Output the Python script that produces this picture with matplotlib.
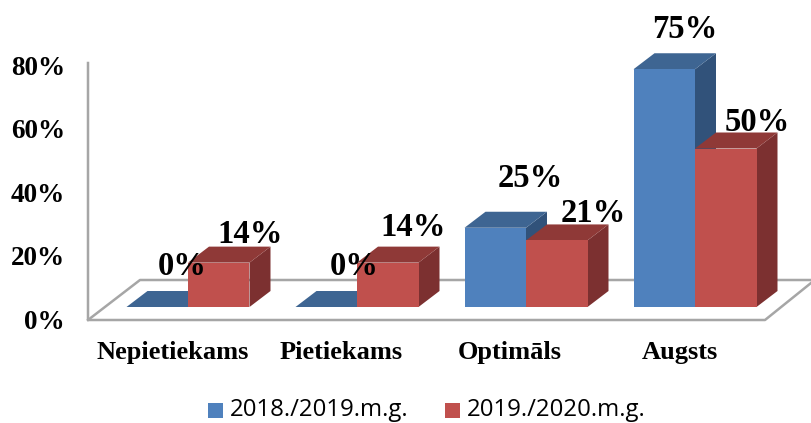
import matplotlib
matplotlib.use('Agg')
import matplotlib.pyplot as plt
from matplotlib.patches import Polygon, Rectangle
from matplotlib.transforms import Affine2D

categories = ['Nepietiekams', 'Pietiekams', 'Optimāls', 'Augsts']
series_names = ['2018./2019.m.g.', '2019./2020.m.g.']
values_2019 = [0, 0, 25, 75]
values_2020 = [14, 14, 21, 50]
y_ticks = [0, 20, 40, 60, 80]

# figure is exactly 811x423 px, one axes over all of it, no frame
W, H = 811, 423
PX_X = 169.0     # px per category
PX_Y = 3.17      # px per percent
X0, Y0 = 188, 307  # where category 0 / value 0 fall in the picture

fig = plt.figure(figsize=(W/100, H/100), dpi=100)
ax = fig.add_axes([0, 0, 1, 1])
ax.set_xlim(-X0/PX_X, (W-X0)/PX_X)
ax.set_ylim((Y0-H)/PX_Y, Y0/PX_Y)
ax.axis('off')

# pixel coords, y down like in the reference
px = Affine2D().scale(1, -1).translate(0, H)

serif = dict(family='Liberation Serif', weight='bold', color='black')
frame = '#a6a6a6'

# wall and floor of the fake 3d box
ax.plot([88, 88, 765, 811], [63, 320, 320, 283], color=frame, lw=1.8, transform=px, zorder=1)
ax.plot([88, 140, 811], [320, 280, 280], color=frame, lw=1.8, transform=px, zorder=1)

bar_w = 61.5/PX_X
dx = 21/PX_X
dy = 16/PX_Y


def draw_bars(offset, vals, front, top, side, z):
    for i, v in enumerate(vals):
        left = i + offset
        right = left + bar_w
        ax.add_patch(Polygon([(right, 0), (right+dx, dy), (right+dx, v+dy), (right, v)],
                             facecolor=side, edgecolor='none', zorder=z))
        ax.add_patch(Polygon([(left, v), (right, v), (right+dx, v+dy), (left+dx, v+dy)],
                             facecolor=top, edgecolor='none', zorder=z))
        ax.bar(left, v, width=bar_w, align='edge', color=front, zorder=z+0.5)


draw_bars(-bar_w, values_2019, '#4f81bd', '#3e6592', '#31527a', 3)
draw_bars(0, values_2020, '#c0504d', '#8f3937', '#7c3030', 4)

# value labels, offsets in px from the top centre of each bar
offs_2019 = [(25, 41), (28, 41), (35, 49), (21, 40)]
offs_2020 = [(31, 28), (25, 35), (37, 27), (32, 26)]
for i in range(4):
    ax.annotate('%d%%' % values_2019[i], (i - bar_w/2, values_2019[i]), xytext=offs_2019[i],
                textcoords='offset pixels', ha='center', va='center', fontsize=23.5, zorder=10, **serif)
    ax.annotate('%d%%' % values_2020[i], (i + bar_w/2, values_2020[i]), xytext=offs_2020[i],
                textcoords='offset pixels', ha='center', va='center', fontsize=23.5, zorder=10, **serif)

# y axis labels sit on the wall, a bit lower than the bars' zero
for t in y_ticks:
    ax.annotate('%d%%' % t, (0, t), xycoords=('axes fraction', 'data'), xytext=(65, -15),
                textcoords='offset pixels', ha='right', va='center', fontsize=19.5, **serif)

cat_x = [173, 341, 510, 679.5]
for name, x in zip(categories, cat_x):
    ax.text(x, 352, name, transform=px, ha='center', va='center', fontsize=19, **serif)

# legend by hand, the squares are spaced unevenly
for name, col, x in zip(series_names, ['#4f81bd', '#c0504d'], [208, 445]):
    ax.add_patch(Rectangle((x, 403), 14.5, 14.5, facecolor=col, edgecolor='none', transform=px))
    ax.text(x+22, 410, name, transform=px, ha='left', va='center', fontsize=17.3,
            family='Open Sans', color='black')

fig.savefig('out.png', dpi=100)
